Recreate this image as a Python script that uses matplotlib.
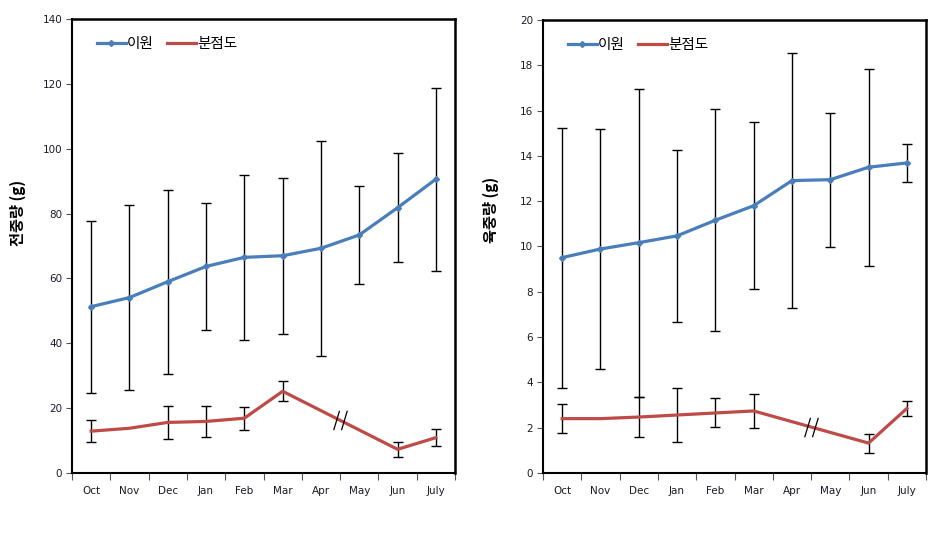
import numpy as np
import matplotlib
matplotlib.use("Agg")
import matplotlib.pyplot as plt
from matplotlib.path import Path

plt.rcParams['font.family'] = ['DejaVu Sans', 'Noto Sans CJK KR']

months = ["Oct", "Nov", "Dec", "Jan", "Feb", "Mar", "Apr", "May", "Jun", "July"]
series_names = ["이원", "분점도"]

# Left: total weight (전중량)
total_iwon = [51.3, 54.1, 59.0, 63.7, 66.5, 67.0, 69.3, 73.4, 81.8, 90.6]
total_iwon_sd = [26.5, 28.6, 28.4, 19.6, 25.5, 24.0, 33.1, 15.2, 16.8, 28.2]
total_bun = [12.9, 13.8, 15.6, 15.9, 16.9, 25.2, np.nan, np.nan, 7.3, 10.9]
total_bun_sd = [3.4, np.nan, 5.1, 4.9, 3.6, 3.1, np.nan, np.nan, 2.3, 2.6]

# Right: meat weight (육중량)
meat_iwon = [9.51, 9.89, 10.17, 10.47, 11.16, 11.80, 12.91, 12.95, 13.50, 13.69]
meat_iwon_sd = [5.74, 5.30, 6.80, 3.80, 4.90, 3.68, 5.62, 2.96, 4.35, 0.84]
meat_bun = [2.40, 2.40, 2.47, 2.56, 2.65, 2.74, np.nan, np.nan, 1.32, 2.85]
meat_bun_sd = [0.63, np.nan, 0.88, 1.21, 0.64, 0.74, np.nan, np.nan, 0.42, 0.35]

ylabels = ["전중량 (g)", "육중량 (g)"]
ylims = [(0, 140, 20), (0, 20, 2)]

BLUE = "#4A7EBB"
RED = "#BE4B48"
TXT = "#1a1a2a"

W, H = 943, 552
fig = plt.figure(figsize=(W / 100, H / 100), dpi=100)

def px_axes(x0, y0, x1, y1):
    return fig.add_axes([x0 / W, 1 - y1 / H, (x1 - x0) / W, (y1 - y0) / H])

axes = [px_axes(72, 19, 455, 473), px_axes(543, 20, 926, 473)]
data = [(total_iwon, total_iwon_sd, total_bun, total_bun_sd),
        (meat_iwon, meat_iwon_sd, meat_bun, meat_bun_sd)]

brk = Path([(-0.7, -1), (-0.1, 1), (0.1, -1), (0.7, 1)],
           [Path.MOVETO, Path.LINETO, Path.MOVETO, Path.LINETO])

x = np.arange(len(months))
for ax, (a, asd, b, bsd), lim in zip(axes, data, ylims):
    a = np.array(a, float); asd = np.array(asd, float)
    b = np.array(b, float); bsd = np.array(bsd, float)
    ax.errorbar(x, a, yerr=asd, fmt='none', ecolor='black', elinewidth=1.0,
                capsize=3.5, capthick=1.0, zorder=2)
    ax.errorbar(x, b, yerr=bsd, fmt='none', ecolor='black', elinewidth=1.0,
                capsize=3.5, capthick=1.0, zorder=2)
    ax.plot(x, a, color=BLUE, lw=2.3, marker='D', ms=3, mfc=BLUE, mec=BLUE,
            zorder=3, label=series_names[0])
    m = ~np.isnan(b)
    ax.plot(x[m], b[m], color=RED, lw=2.3, zorder=3, label=series_names[1])
    # break mark in the middle of the gap
    valid = np.where(m)[0]
    gaps = np.where(np.diff(valid) > 1)[0]
    for g in gaps:
        i0, i1 = valid[g], valid[g + 1]
        xm = (i0 + i1) / 2
        ym = np.interp(xm, [i0, i1], [b[i0], b[i1]])
        ax.plot([xm], [ym], marker=brk, ms=14, mec='black', mew=0.9,
                fillstyle='none', ls='none', zorder=4)

    ax.set_xlim(-0.5, len(months) - 0.5)
    ax.set_ylim(lim[0], lim[1])
    ax.set_yticks(np.arange(lim[0], lim[1] + 0.001, lim[2]))
    ax.set_xticks(np.arange(-0.5, len(months), 1))
    ax.set_xticklabels([])
    ax.set_xticks(x, minor=True)
    ax.set_xticklabels(months, minor=True)
    ax.tick_params(axis='x', which='major', direction='out', length=5, width=0.8, color='#555555')
    ax.tick_params(axis='x', which='minor', length=0, pad=9, labelsize=7.5, labelcolor=TXT)
    ax.tick_params(axis='y', direction='out', length=4, width=0.8, color='#555555',
                   labelsize=7.5, labelcolor=TXT, pad=3)
    for s in ['top', 'right']:
        ax.spines[s].set_linewidth(1.8)
        ax.spines[s].set_color('black')
    for s in ['left', 'bottom']:
        ax.spines[s].set_linewidth(1.5)
        ax.spines[s].set_color('black')
    leg = ax.legend(loc='upper left', bbox_to_anchor=(0.03, 0.99), ncol=2,
                    frameon=False, handlelength=2.0, handletextpad=0.1,
                    columnspacing=0.9, prop={'family': ['Noto Sans CJK KR'], 'size': 10.5})

fig.text(18 / W, 1 - 213 / H, ylabels[0], rotation=90, ha='center', va='center',
         fontsize=11, fontweight='bold', family=['Noto Sans CJK KR', 'DejaVu Sans'])
fig.text(491 / W, 1 - 210 / H, ylabels[1], rotation=90, ha='center', va='center',
         fontsize=11, fontweight='bold', family=['Noto Sans CJK KR', 'DejaVu Sans'])

fig.savefig("out.png", dpi=100, facecolor='white')
